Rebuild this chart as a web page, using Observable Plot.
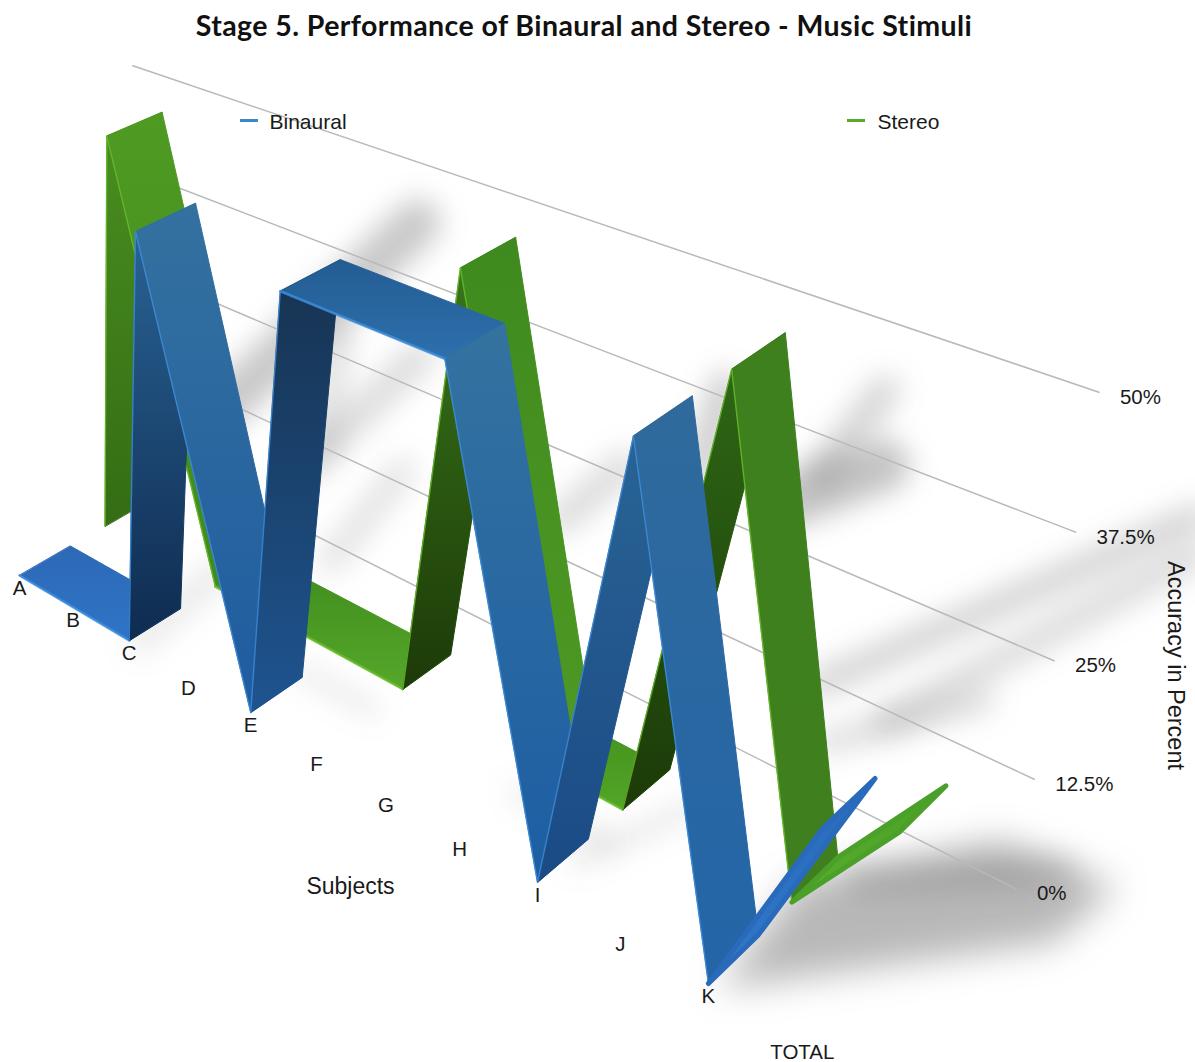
<!DOCTYPE html>
<html>
<head>
<meta charset="utf-8">
<script src="https://cdn.jsdelivr.net/npm/d3@7"></script>
<script src="https://cdn.jsdelivr.net/npm/@observablehq/plot@0.6"></script>
<style>
  html, body { margin: 0; background: #fff; }
  #title { height: 50px; box-sizing: border-box; padding-top: 7px; text-align: center; width: 1168px;
           font: 700 28.5px/36px Lato, sans-serif; letter-spacing: 0.42px; color: #111; white-space: nowrap; }
  svg { display: block; }
</style>
</head>
<body>
<div id="title">Stage 5. Performance of Binaural and Stereo - Music Stimuli</div>
<div id="chart"></div>
<script>
// Accuracy per subject, in percent
const subjects = ["A", "B", "C", "D", "E", "F", "G", "H", "I", "J", "K", "TOTAL"];
const binaural = [0, 0, 0, 50, 0, 50, 50, 50, 0, 50, 0, 22.7];
const stereo   = [0, 50, 0, 0, 0, 0, 50, 0, 0, 50, 0, 13.6];
const percentTicks = [0, 12.5, 25, 37.5, 50];
const tickLabels = ["0%", "12.5%", "25%", "37.5%", "50%"];

// Shading of each run of the ribbon, top colour then bottom colour
const binauralShades = [
  ["#2d69b6", "#2e74c6"], ["#2a6698", "#0f2b50"], ["#34719f", "#1f5ca0"],
  ["#17324f", "#1e5490"], ["#245c92", "#2d70ad"], ["#34729f", "#1d5ea4"],
  ["#2a6696", "#1b4a85"], ["#306a9c", "#2365a8"], ["#2a6aba", "#2f78cc"]
];
const stereoShades = [
  ["#4a8f20", "#346d14"], ["#4f9a22", "#3f8a1c"], ["#3f8a1e", "#55a82a"],
  ["#3a7a1c", "#1d3a08"], ["#3f8a1e", "#4f9a24"], ["#45931f", "#52a626"],
  ["#2f6a16", "#1c3a08"], ["#3e7f1e", "#3f7f1e"], ["#4aa028", "#56ae2c"]
];

// Soft shadows on the floor, as [subject position, depth] pairs with a width and a strength
const floorStreaks = [
  {from: [-0.94, 5.41], to: [-2.64, 12.66], width: 46, strength: 0.3},
  {from: [1.0, 4.77],   to: [0.22, 8.75],   width: 30, strength: 0.2},
  {from: [0.885, 5.42], to: [-1.16, 8.54],  width: 22, strength: 0.2},
  {from: [2.69, 3.27],  to: [2.02, 5.8],    width: 26, strength: 0.16},
  {from: [2.1, 0.1],    to: [1.81, 2.03],   width: 26, strength: 0.12},
  {from: [6.13, 9.86],  to: [5.69, 12.68],  width: 30, strength: 0.24},
  {from: [6.19, 8.93],  to: [6.64, 10.68],  width: 52, strength: 0.33},
  {from: [8.4, 5.42],   to: [10.08, 12.31], width: 28, strength: 0.24},
  {from: [9.27, 5.31],  to: [10.41, 11.38], width: 28, strength: 0.2},
  {from: [8.97, 4.4],   to: [9.88, 6.49],   width: 22, strength: 0.2},
  {from: [4.94, 8.76],  to: [3.98, 11.18],  width: 28, strength: 0.3},
  {from: [4.28, 6.28],  to: [4.14, 8.15],   width: 30, strength: 0.2},
  {from: [10.33, 2.53], to: [11.7, 4.22],   width: 30, strength: 0.2},
  {from: [3.9, 1.1],    to: [5.0, 1.1],     width: 14, strength: 0.14},
  {from: [7.0, 1.1],    to: [8.2, 1.1],     width: 14, strength: 0.14},
  {from: [8.1, 0.6],    to: [8.6, 2.6],     width: 18, strength: 0.12}
];
const floorPool = [[10.1, 0], [9.9, 2.07], [11.07, 4.23], [12.2, 4.4], [12.1, 3.1]];

// Pinhole view of the chart box: subject position, percent and depth to the page
const view = {
  a: 51.74, b: -65.1, c: 52.3, e: 19,
  f: 16.98, g: -439, h: -19, j: 575,
  m: -0.02423, n: -0.119, o: 0.0191
};
const topPercent = 50;
function project(i, percent, depth) {
  const v = percent / topPercent;
  const w = 1 + view.m * i + view.n * v + view.o * depth;
  return {
    x: (view.a * i + view.b * v + view.c * depth + view.e) / w,
    y: (view.f * i + view.g * v + view.h * depth + view.j) / w
  };
}

const wallDepth = 3.6;
const wallSpan = [-0.3, 11.5];
const ribbonDepth = {binaural: 0, stereo: 1.7};

// Consecutive steps with the same slope belong to one flat run of the ribbon
function ribbonRuns(values) {
  const runs = [];
  for (let i = 0; i < values.length - 1; i++) {
    const step = values[i + 1] - values[i];
    const last = runs[runs.length - 1];
    if (last && last.step === step) last.end = i + 1;
    else runs.push({start: i, end: i + 1, step});
  }
  return runs;
}

function ribbonFaces(name, values, shades) {
  const near = ribbonDepth[name];
  return ribbonRuns(values).map((run, k, all) => ({
    id: `${name}-${k}`,
    shade: shades[k],
    flat: run.step === 0,
    closing: k === all.length - 1,
    edge: [project(run.start, values[run.start], near), project(run.end, values[run.end], near)],
    outline: [
      project(run.start, values[run.start], near),
      project(run.end, values[run.end], near),
      project(run.end, values[run.end], near + 1),
      project(run.start, values[run.start], near + 1)
    ]
  }));
}

const stereoFaces = ribbonFaces("stereo", stereo, stereoShades);
const binauralFaces = ribbonFaces("binaural", binaural, binauralShades);

const shadingDefs = () => {
  const defs = d3.create("svg:defs");
  for (const face of [...stereoFaces, ...binauralFaces]) {
    const g = defs.append("linearGradient").attr("id", face.id)
      .attr("x1", 0).attr("y1", 0).attr("x2", 0).attr("y2", 1);
    g.append("stop").attr("offset", "0%").attr("stop-color", face.shade[0]);
    g.append("stop").attr("offset", "100%").attr("stop-color", face.shade[1]);
  }
  return defs.node();
};

// The closing run is seen almost edge-on, so its outline is drawn heavier and rounded
const faceMarks = (faces, edgeColor) => faces.flatMap((face) => [
  Plot.line(face.outline, {
    x: "x", y: "y", curve: "linear-closed",
    fill: `url(#${face.id})`, stroke: face.closing ? face.shade[0] : `url(#${face.id})`,
    strokeWidth: face.closing ? 5 : 1, strokeLinejoin: "round"
  }),
  Plot.line(face.edge, {
    x: "x", y: "y", stroke: edgeColor,
    strokeWidth: face.flat ? 2.6 : 1.4, strokeOpacity: face.closing ? 0 : 0.8
  })
]);

const streakMarks = floorStreaks.map((s) =>
  Plot.line([project(s.from[0], 0, s.from[1]), project(s.to[0], 0, s.to[1])], {
    x: "x", y: "y", stroke: "#4a4a4a", strokeWidth: s.width, strokeOpacity: s.strength,
    strokeLinecap: "round", imageFilter: "blur(14px)"
  })
);

const gridRows = percentTicks.map((p) => ({
  p,
  line: wallSpan.map((i) => project(i, p, wallDepth))
}));

const subjectRows = subjects.map((name, i) => ({name, ...project(i, 0, 0)}));
const tickRows = percentTicks.map((p, k) => ({label: tickLabels[k], ...project(wallSpan[1], p, wallDepth)}));

const labelFont = {fontFamily: "Liberation Sans, Arimo, Helvetica, sans-serif", fontSize: 20.5, fill: "#1a1a1a"};

const chart = Plot.plot({
  width: 1195,
  height: 1012,
  margin: 0,
  style: {background: "transparent", overflow: "hidden"},
  x: {domain: [0, 1195], range: [0, 1195], axis: null},
  y: {domain: [50, 1062], range: [0, 1012], axis: null},
  marks: [
    shadingDefs,
    ...streakMarks,
    Plot.line(floorPool.map(([i, d]) => project(i, 0, d)), {
      x: "x", y: "y", curve: "linear-closed", fill: "#555", fillOpacity: 0.42, stroke: "none",
      imageFilter: "blur(18px)"
    }),
    ...gridRows.map((row) => Plot.line(row.line, {x: "x", y: "y", stroke: "#b9b9b9", strokeWidth: 1.5})),
    ...faceMarks(stereoFaces, "#69bd2c"),
    ...faceMarks(binauralFaces, "#3f8fde"),
    Plot.text(subjectRows, {x: "x", y: "y", text: "name", dy: 13, ...labelFont}),
    Plot.text(tickRows, {x: "x", y: "y", text: "label", dx: 21, dy: 5, textAnchor: "start", ...labelFont}),
    Plot.text(["Subjects"], {x: 350, y: 886, text: (d) => d, ...labelFont, fontSize: 23}),
    Plot.text(["Accuracy in Percent"], {x: 1175, y: 665, text: (d) => d, rotate: 90, ...labelFont, fontSize: 23.5}),
    Plot.ruleY([120], {x1: 240, x2: 258, stroke: "#3a88c8", strokeWidth: 3}),
    Plot.text(["Binaural"], {x: 269, y: 122, text: (d) => d, textAnchor: "start", ...labelFont, fontSize: 21}),
    Plot.ruleY([120], {x1: 847, x2: 865, stroke: "#5aaa2c", strokeWidth: 3}),
    Plot.text(["Stereo"], {x: 877, y: 122, text: (d) => d, textAnchor: "start", ...labelFont, fontSize: 21})
  ]
});
document.getElementById("chart").append(chart);
</script>
</body>
</html>
